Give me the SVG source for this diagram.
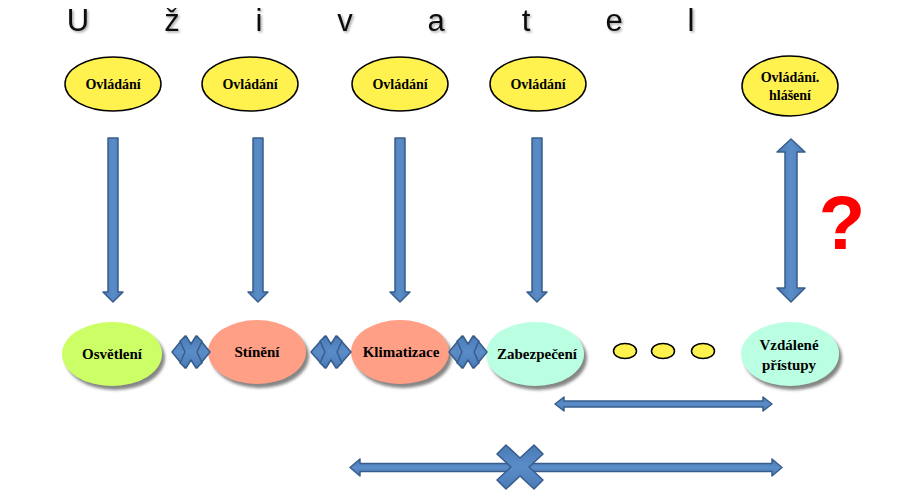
<svg xmlns="http://www.w3.org/2000/svg" width="900" height="499" viewBox="0 0 900 499">
<defs>
<filter id="sh" x="-20%" y="-20%" width="150%" height="150%"><feDropShadow dx="3" dy="4" stdDeviation="1.5" flood-color="#7f7f7f" flood-opacity="0.95"/></filter>
<filter id="tsh" x="-20%" y="-20%" width="150%" height="150%"><feDropShadow dx="1.5" dy="1.5" stdDeviation="1" flood-color="#000" flood-opacity="0.35"/></filter>
<linearGradient id="ag" x1="0" y1="0" x2="1" y2="0"><stop offset="0" stop-color="#4a7bb7"/><stop offset="0.5" stop-color="#5a8cc8"/><stop offset="1" stop-color="#4a7bb7"/></linearGradient>
<linearGradient id="agh" x1="0" y1="0" x2="0" y2="1"><stop offset="0" stop-color="#4a7bb7"/><stop offset="0.5" stop-color="#5a8cc8"/><stop offset="1" stop-color="#4a7bb7"/></linearGradient>
</defs>
<style>
.title{font-family:"Liberation Sans",Arial,sans-serif;font-size:31px;fill:#111;text-anchor:middle}
.top{fill:#FFF24F;stroke:#000;stroke-width:1.5}
.lbl{font-family:"Liberation Serif","Times New Roman",serif;font-weight:bold;font-size:14px;fill:#000;text-anchor:middle}
.node{filter:url(#sh)}
.arr{fill:url(#ag);stroke:#385D8A;stroke-width:1.5;stroke-linejoin:round}
.arrh{fill:url(#agh);stroke:#385D8A;stroke-width:1.5;stroke-linejoin:round}
.dot{fill:#FFF24F;stroke:#000;stroke-width:1.5}
</style>
<rect width="900" height="499" fill="#fff"/>
<g id="title" filter="url(#tsh)">
<text class="title" x="78" y="31">U</text>
<text class="title" x="172" y="31">ž</text>
<text class="title" x="259" y="31">i</text>
<text class="title" x="345" y="31">v</text>
<text class="title" x="436" y="31">a</text>
<text class="title" x="526" y="31">t</text>
<text class="title" x="614" y="31">e</text>
<text class="title" x="691" y="31">l</text>
</g>
<g id="ctrl1"><ellipse class="top" cx="113" cy="84" rx="48" ry="27"/><text class="lbl" x="113" y="89">Ovládání</text></g>
<g id="ctrl2"><ellipse class="top" cx="250" cy="84" rx="48" ry="27"/><text class="lbl" x="250" y="89">Ovládání</text></g>
<g id="ctrl3"><ellipse class="top" cx="400" cy="84" rx="48" ry="27"/><text class="lbl" x="400" y="89">Ovládání</text></g>
<g id="ctrl4"><ellipse class="top" cx="538" cy="84" rx="48" ry="27"/><text class="lbl" x="538" y="89">Ovládání</text></g>
<g id="ctrl5"><ellipse class="top" cx="790" cy="86" rx="48" ry="30"/><text class="lbl" x="790" y="82">Ovládání.</text><text class="lbl" x="790" y="100">hlášení</text></g>

<g id="n-osvetleni"><ellipse class="node" cx="112" cy="354" rx="50" ry="32" fill="#CCFF66"/><text class="lbl" x="112" y="359" style="font-size:15px">Osvětlení</text></g>
<g id="n-stineni"><ellipse class="node" cx="257" cy="352" rx="49" ry="32" fill="#FF9F85"/><text class="lbl" x="257" y="357" style="font-size:15px">Stínění</text></g>
<g id="n-klimatizace"><ellipse class="node" cx="400" cy="352" rx="49" ry="32" fill="#FF9F85"/><text class="lbl" x="401" y="357" style="font-size:15px">Klimatizace</text></g>
<g id="n-zabezpeceni"><ellipse class="node" cx="535" cy="354" rx="49" ry="32" fill="#BBFFE3"/><text class="lbl" x="537" y="359" style="font-size:15px">Zabezpečení</text></g>
<g id="n-vzdalene"><ellipse class="node" cx="790" cy="354" rx="49" ry="32" fill="#BBFFE3"/><text class="lbl" x="789" y="350" style="font-size:15px">Vzdálené</text><text class="lbl" x="789" y="370" style="font-size:15px">přístupy</text></g>

<g id="dots">
<ellipse class="dot" cx="625" cy="351" rx="11.5" ry="7.5"/>
<ellipse class="dot" cx="663" cy="351" rx="11.5" ry="7.5"/>
<ellipse class="dot" cx="703" cy="351" rx="11.5" ry="7.5"/>
</g>

<g id="connectors">
<path class="arr" d="M108 138 H118 V292 H123 L113 302 L103 292 H108 Z"/>
<path class="arr" d="M253 138 H263 V292 H268 L258 302 L248 292 H253 Z"/>
<path class="arr" d="M395 138 H405 V292 H410 L400 302 L390 292 H395 Z"/>
<path class="arr" d="M532 138 H542 V292 H547 L537 302 L527 292 H532 Z"/>
<path class="arr" d="M791 139 L805 152 H797 V288 H805 L791 302 L777 288 H785 V152 H777 Z"/>

<path class="arrh" d="M555 404 L564 397 V401 H763 V397 L772 404 L763 411 V407 H564 V411 Z"/>
<path class="arrh" d="M350 467.5 L360 459 V463.5 H772 V459 L782 467.5 L772 476 V471.5 H360 V476 Z"/>
<polygon class="arrh" transform="translate(520 467)" points="-23,-13 -14,-22 0,-9 14,-22 23,-13 9,0 23,13 14,22 0,9 -14,22 -23,13 -9,0"/>

<g transform="translate(191 352)">
<path class="arrh" d="M-19 0 L-6 -16 V-6 H6 V-16 L19 0 L6 16 V6 H-6 V16 Z"/>
<polygon class="arrh" points="-11,-11 -5,-16 0,-8 5,-16 11,-11 6,0 11,11 5,16 0,8 -5,16 -11,11 -6,0"/>
</g>
<g transform="translate(331 352)">
<path class="arrh" d="M-20 0 L-6 -16 V-6 H6 V-16 L20 0 L6 16 V6 H-6 V16 Z"/>
<polygon class="arrh" points="-11,-11 -5,-16 0,-8 5,-16 11,-11 6,0 11,11 5,16 0,8 -5,16 -11,11 -6,0"/>
</g>
<g transform="translate(468 352)">
<path class="arrh" d="M-19 0 L-6 -16 V-6 H6 V-16 L19 0 L6 16 V6 H-6 V16 Z"/>
<polygon class="arrh" points="-11,-11 -5,-16 0,-8 5,-16 11,-11 6,0 11,11 5,16 0,8 -5,16 -11,11 -6,0"/>
</g>
</g>

<text x="842" y="249" style="font-family:'Liberation Sans',Arial,sans-serif;font-weight:bold;font-size:76px;fill:#FF0000" text-anchor="middle">?</text>
</svg>
